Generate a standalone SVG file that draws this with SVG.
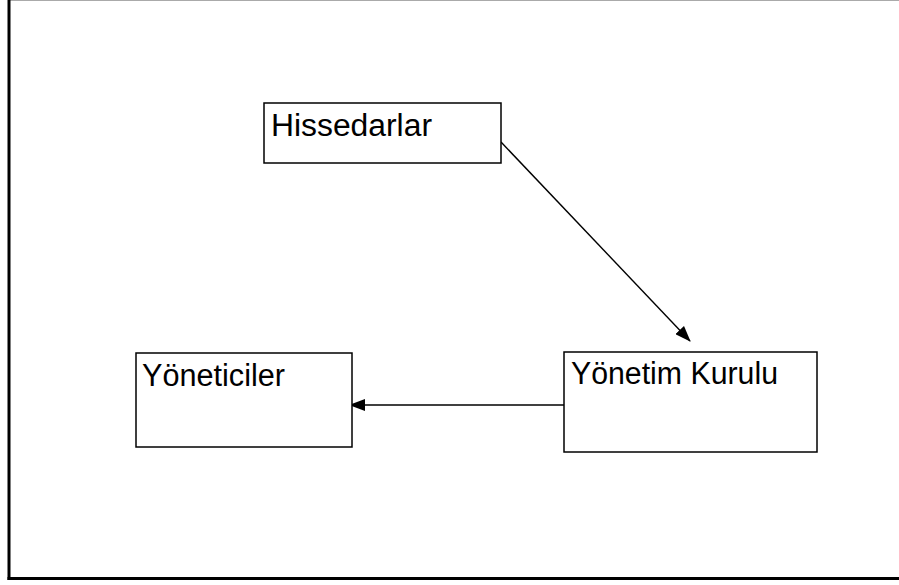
<svg xmlns="http://www.w3.org/2000/svg" width="899" height="585" viewBox="0 0 899 585">
<style>
.box{fill:#fff;stroke:#000;stroke-width:1.5}
.lbl{font-family:"Liberation Sans",Arial,sans-serif;font-size:31px;fill:#000}
.conn{stroke:#000;stroke-width:1.4;fill:none}
</style>
<defs>
<marker id="arr" markerWidth="16" markerHeight="12" refX="15" refY="6" orient="auto" markerUnits="userSpaceOnUse">
<path d="M0,0 L16,6 L0,12 Z" fill="#000"/>
</marker>
</defs>
<rect x="0" y="0" width="899" height="585" fill="#fff"/>
<g id="frame">
<line x1="10" y1="0.5" x2="899" y2="0.5" stroke="#aaa" stroke-width="1"/>
<line x1="9" y1="0" x2="9" y2="580" stroke="#000" stroke-width="3"/>
<line x1="7.5" y1="578.5" x2="899" y2="578.5" stroke="#000" stroke-width="3"/>
</g>
<g id="connectors">
<line class="conn" x1="501" y1="142" x2="690" y2="341" marker-end="url(#arr)"/>
<line class="conn" x1="564" y1="405" x2="350" y2="405" marker-end="url(#arr)"/>
</g>
<g id="hissedarlar">
<rect class="box" x="264" y="103" width="237" height="60"/>
<text class="lbl" x="271" y="136" textLength="161" lengthAdjust="spacingAndGlyphs">Hissedarlar</text>
</g>
<g id="yoneticiler">
<rect class="box" x="136" y="353" width="216" height="94"/>
<text class="lbl" x="142" y="386" textLength="143" lengthAdjust="spacingAndGlyphs">Yöneticiler</text>
</g>
<g id="yonetim-kurulu">
<rect class="box" x="564" y="352" width="253" height="100"/>
<text class="lbl" x="571" y="384" textLength="207" lengthAdjust="spacingAndGlyphs">Yönetim Kurulu</text>
</g>
</svg>
